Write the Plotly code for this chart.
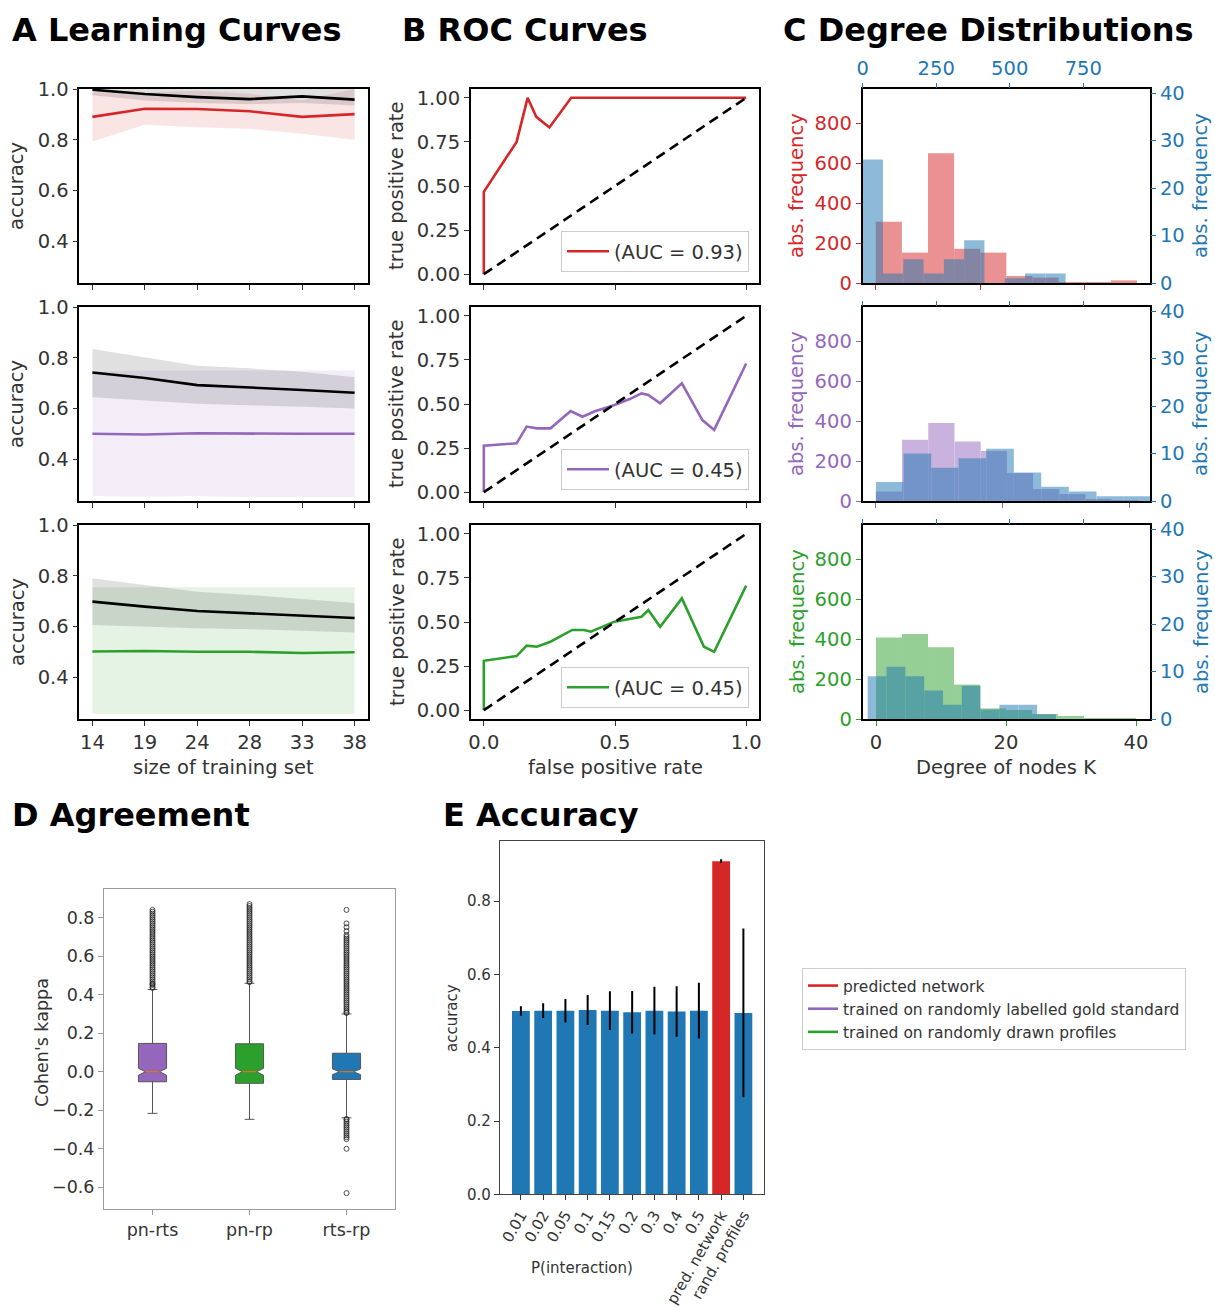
import plotly.graph_objects as go

W, H = 1215, 1307
FONT = "DejaVu Sans"
TXT = "#333333"
RED, PURPLE, GREEN, BLUE = "#d62728", "#9467bd", "#2ca02c", "#1f77b4"
FS = 19.5      # text size in panels A-C
FS_D = 17.5    # text size in panel D
FS_E = 15      # text size in panel E
FS_TITLE = 32

# ---------------- data ----------------
train_sizes = ["14", "19", "24", "28", "33", "38"]

# A, row 1: predicted network
train_acc_pn = [0.997, 0.980, 0.968, 0.960, 0.971, 0.958]
train_acc_pn_lo = [0.975, 0.955, 0.945, 0.940, 0.945, 0.935]
train_acc_pn_hi = [1.0, 1.0, 1.0, 1.0, 1.0, 1.0]
test_acc_pn = [0.890, 0.922, 0.921, 0.912, 0.890, 0.901]
test_acc_pn_lo = [0.793, 0.859, 0.849, 0.843, 0.824, 0.800]
test_acc_pn_hi = [0.987, 0.985, 0.993, 0.981, 0.956, 1.0]

# A, row 2: randomly labelled gold standard
train_acc_rl = [0.742, 0.720, 0.692, 0.683, 0.673, 0.662]
train_acc_rl_lo = [0.644, 0.631, 0.618, 0.614, 0.607, 0.600]
train_acc_rl_hi = [0.834, 0.801, 0.768, 0.758, 0.745, 0.723]
test_acc_rl = [0.500, 0.497, 0.502, 0.500, 0.500, 0.500]
test_acc_rl_lo = [0.255, 0.252, 0.255, 0.250, 0.250, 0.250]
test_acc_rl_hi = [0.745, 0.750, 0.750, 0.750, 0.750, 0.750]

# A, row 3: randomly drawn profiles
train_acc_rp = [0.698, 0.678, 0.661, 0.652, 0.642, 0.633]
train_acc_rp_lo = [0.606, 0.600, 0.593, 0.589, 0.584, 0.576]
train_acc_rp_hi = [0.790, 0.764, 0.737, 0.724, 0.707, 0.692]
test_acc_rp = [0.501, 0.503, 0.500, 0.500, 0.495, 0.498]
test_acc_rp_lo = [0.256, 0.256, 0.256, 0.256, 0.256, 0.256]
test_acc_rp_hi = [0.755, 0.755, 0.755, 0.755, 0.755, 0.755]

# B: ROC curves
fpr_pn = [0.0, 0.0, 0.125, 0.167, 0.200, 0.250, 0.333, 1.0]
tpr_pn = [0.0, 0.467, 0.750, 1.000, 0.892, 0.832, 1.000, 1.0]
auc_pn = 0.93
fpr_rl = [0.0, 0.0, 0.125, 0.163, 0.202, 0.254, 0.331, 0.376, 0.421, 0.498,
          0.556, 0.601, 0.627, 0.672, 0.755, 0.833, 0.878, 1.0]
tpr_rl = [0.0, 0.264, 0.277, 0.372, 0.362, 0.362, 0.460, 0.428, 0.457, 0.494,
          0.528, 0.560, 0.551, 0.504, 0.617, 0.409, 0.353, 0.730]
auc_rl = 0.45
fpr_rp = [0.0, 0.0, 0.125, 0.163, 0.202, 0.254, 0.337, 0.382, 0.408, 0.498,
          0.601, 0.627, 0.672, 0.755, 0.839, 0.878, 1.0]
tpr_rp = [0.0, 0.280, 0.307, 0.366, 0.360, 0.388, 0.455, 0.455, 0.445, 0.502,
          0.530, 0.568, 0.473, 0.634, 0.360, 0.331, 0.706]
auc_rp = 0.45

# C: degree histograms (bin edges + counts)
deg_pn_edges = [0, 5, 10, 15, 20, 25, 30, 35, 40, 45, 50]
deg_pn_counts = [306, 152, 649, 171, 152, 35, 27, 4, 3, 13]
deg_gold_edges = [0, 69, 138, 207, 276, 345, 414, 483, 552, 621, 690]
deg_gold_counts = [26, 2, 5, 2, 5, 9, 0, 1, 2, 2]

deg_rl_edges = [0, 4.13, 8.26, 12.39, 16.52, 20.65, 24.78, 28.91, 33.04, 37.17, 41.3]
deg_rl_counts = [47, 306, 390, 298, 250, 140, 60, 35, 8, 5]
deg_gold_rl_edges = [45, 139, 233, 326, 420, 514, 607, 701, 795, 888, 982]
deg_gold_rl_counts = [4, 10, 7, 9, 11, 6, 3, 2, 1, 1]

deg_rp_edges = [0, 4, 8, 12, 16, 20, 24, 28, 32, 36, 40]
deg_rp_counts = [408, 425, 359, 172, 53, 45, 25, 15, 4, 3]
deg_gold_rp_edges = [17, 81, 145, 209, 273, 337, 401, 465, 529, 593, 657]
deg_gold_rp_counts = [9, 11, 9, 6, 3, 7, 2, 3, 3, 1]

# D: Cohen's kappa box statistics
pair_labels = ["pn-rts", "pn-rp", "rts-rp"]
kappa_q1 = [-0.052, -0.060, -0.040]
kappa_med = [0.0, 0.0, 0.0]
kappa_q3 = [0.147, 0.145, 0.096]
kappa_lo = [-0.216, -0.247, -0.239]
kappa_hi = [0.427, 0.459, 0.300]
kappa_notch = [0.018, 0.018, 0.015]
fliers_pn_rts = [0.435, 0.44, 0.45, 0.455, 0.46, 0.47, 0.48, 0.49, 0.50, 0.51, 0.52,
                 0.53, 0.54, 0.55, 0.56, 0.57, 0.58, 0.59, 0.60, 0.61, 0.62, 0.63,
                 0.64, 0.65, 0.66, 0.67, 0.68, 0.69, 0.70, 0.71, 0.72, 0.73, 0.74,
                 0.75, 0.76, 0.77, 0.78, 0.79, 0.80, 0.81, 0.82, 0.83, 0.84]
fliers_pn_rp = [0.465, 0.47, 0.48, 0.49, 0.50, 0.51, 0.52, 0.53, 0.54, 0.55, 0.56,
                0.57, 0.58, 0.59, 0.60, 0.61, 0.62, 0.63, 0.64, 0.65, 0.66, 0.67,
                0.68, 0.69, 0.70, 0.71, 0.72, 0.73, 0.74, 0.75, 0.76, 0.77, 0.78,
                0.79, 0.80, 0.81, 0.82, 0.83, 0.84, 0.85, 0.86, 0.87]
fliers_rts_rp = [0.305, 0.31, 0.32, 0.33, 0.34, 0.35, 0.36, 0.37, 0.38, 0.39, 0.40,
                 0.41, 0.42, 0.43, 0.44, 0.45, 0.46, 0.47, 0.48, 0.49, 0.50, 0.51,
                 0.52, 0.53, 0.54, 0.55, 0.56, 0.57, 0.58, 0.59, 0.60, 0.61, 0.62,
                 0.63, 0.64, 0.65, 0.66, 0.67, 0.68, 0.69, 0.70, 0.71, 0.73, 0.75,
                 0.77, 0.84, -0.245, -0.25, -0.26, -0.27, -0.28, -0.29, -0.30,
                 -0.31, -0.32, -0.33, -0.34, -0.35, -0.40, -0.63]

# E: accuracy per setting
acc_labels = ["0.01", "0.02", "0.05", "0.1", "0.15", "0.2", "0.3", "0.4", "0.5",
              "pred. network", "rand. profiles"]
acc_values = [0.500, 0.501, 0.501, 0.503, 0.501, 0.497, 0.501, 0.499, 0.501, 0.909, 0.495]
acc_errors = [0.013, 0.020, 0.032, 0.041, 0.053, 0.058, 0.065, 0.069, 0.076, 0.005, 0.230]
acc_colors = [BLUE] * 9 + [RED, BLUE]


def rgba(hex_color, a):
    h = hex_color.lstrip("#")
    r, g, b = int(h[0:2], 16), int(h[2:4], 16), int(h[4:6], 16)
    return f"rgba({r},{g},{b},{a})"


def xd(x0, x1):
    return [x0 / W, x1 / W]


def yd(y0, y1):
    return [1 - y1 / H, 1 - y0 / H]


def axis(size=FS, **kw):
    d = dict(showgrid=False, zeroline=False, showline=True, linecolor="black",
             linewidth=1.5, mirror=True, ticks="outside", ticklen=5, tickwidth=1.2,
             tickcolor=TXT, automargin=False,
             tickfont=dict(family=FONT, size=size, color=TXT))
    d.update(kw)
    return d


fig = go.Figure()
layout = {}

ROWS = [(89, 283), (307, 501), (525, 719)]
COL_A, COL_B, COL_C = (79.3, 367.7), (470.7, 759.3), (862.7, 1150)

# ---------------- A: learning curves ----------------
a_rows = [
    (train_acc_pn, train_acc_pn_lo, train_acc_pn_hi, test_acc_pn, test_acc_pn_lo,
     test_acc_pn_hi, RED, "predicted network"),
    (train_acc_rl, train_acc_rl_lo, train_acc_rl_hi, test_acc_rl, test_acc_rl_lo,
     test_acc_rl_hi, PURPLE, "trained on randomly labelled gold standard"),
    (train_acc_rp, train_acc_rp_lo, train_acc_rp_hi, test_acc_rp, test_acc_rp_lo,
     test_acc_rp_hi, GREEN, "trained on randomly drawn profiles"),
]
for r, (tr, trlo, trhi, te, telo, tehi, col, name) in enumerate(a_rows):
    n = 1 + r
    xa, ya = f"x{n}", f"y{n}"
    fig.add_trace(go.Scatter(x=train_sizes + train_sizes[::-1], y=tehi + telo[::-1],
                             fill="toself", fillcolor=rgba(col, 0.12), line=dict(width=0),
                             mode="lines", showlegend=False, hoverinfo="skip",
                             xaxis=xa, yaxis=ya))
    fig.add_trace(go.Scatter(x=train_sizes + train_sizes[::-1], y=trhi + trlo[::-1],
                             fill="toself", fillcolor="rgba(0,0,0,0.12)", line=dict(width=0),
                             mode="lines", showlegend=False, hoverinfo="skip",
                             xaxis=xa, yaxis=ya))
    fig.add_trace(go.Scatter(x=train_sizes, y=tr, mode="lines",
                             line=dict(color="black", width=2.6), showlegend=False,
                             xaxis=xa, yaxis=ya))
    fig.add_trace(go.Scatter(x=train_sizes, y=te, mode="lines", name=name,
                             line=dict(color=col, width=2.6), showlegend=True,
                             legend="legend", xaxis=xa, yaxis=ya))
    layout[f"xaxis{n}"] = axis(domain=xd(*COL_A), anchor=ya, type="category",
                               range=[-0.25, 5.25], showticklabels=(r == 2))
    layout[f"yaxis{n}"] = axis(domain=yd(*ROWS[r]), anchor=xa, range=[0.235, 1.0],
                               tickvals=[0.4, 0.6, 0.8, 1.0], tickformat=".1f")

# ---------------- B: ROC curves ----------------
b_rows = [(fpr_pn, tpr_pn, auc_pn, RED), (fpr_rl, tpr_rl, auc_rl, PURPLE),
          (fpr_rp, tpr_rp, auc_rp, GREEN)]
for r, (fpr, tpr, auc, col) in enumerate(b_rows):
    n = 4 + r
    xa, ya = f"x{n}", f"y{n}"
    lg = f"legend{r + 2}"
    fig.add_trace(go.Scatter(x=fpr, y=tpr, mode="lines", name=f"(AUC = {auc:.2f})",
                             line=dict(color=col, width=2.6), legend=lg,
                             xaxis=xa, yaxis=ya))
    fig.add_trace(go.Scatter(x=[0, 1], y=[0, 1], mode="lines", showlegend=False,
                             line=dict(color="black", width=2.6, dash="10px,6px"),
                             xaxis=xa, yaxis=ya))
    layout[f"xaxis{n}"] = axis(domain=xd(*COL_B), anchor=ya, range=[-0.05, 1.05],
                               tickvals=[0, 0.5, 1.0], tickformat=".1f",
                               showticklabels=(r == 2))
    layout[f"yaxis{n}"] = axis(domain=yd(*ROWS[r]), anchor=xa, range=[-0.05, 1.05],
                               tickvals=[0, 0.25, 0.5, 0.75, 1.0], tickformat=".2f")
    y0, y1 = ROWS[r]
    layout[lg] = dict(x=749 / W, xanchor="right", y=1 - (y1 - 11) / H, yanchor="bottom",
                      bgcolor="white", bordercolor="#cccccc", borderwidth=1,
                      font=dict(family=FONT, size=FS, color=TXT), itemwidth=42)

# ---------------- C: degree distributions ----------------
c_rows = [
    (deg_pn_edges, deg_pn_counts, deg_gold_edges, deg_gold_counts, RED, [-2.5, 52.5]),
    (deg_rl_edges, deg_rl_counts, deg_gold_rl_edges, deg_gold_rl_counts, PURPLE, [-2.07, 43.2]),
    (deg_rp_edges, deg_rp_counts, deg_gold_rp_edges, deg_gold_rp_counts, GREEN, [-2.05, 42.15]),
]


def hist_bars(edges, counts):
    centers = [(a + b) / 2 for a, b in zip(edges[:-1], edges[1:])]
    widths = [b - a for a, b in zip(edges[:-1], edges[1:])]
    return centers, widths, counts


for r, (e1, c1, e2, c2, col, krange) in enumerate(c_rows):
    n, m = 7 + r, 10 + r
    xa, ya, xt, yr = f"x{n}", f"y{n}", f"x{m}", f"y{m}"
    cx, wd, ct = hist_bars(e1, c1)
    fig.add_trace(go.Bar(x=cx, y=ct, width=wd, marker=dict(color=col, line=dict(width=0)),
                         opacity=0.5, showlegend=False, xaxis=xa, yaxis=ya))
    cx2, wd2, ct2 = hist_bars(e2, c2)
    fig.add_trace(go.Bar(x=cx2, y=ct2, width=wd2, marker=dict(color=BLUE, line=dict(width=0)),
                         opacity=0.5, showlegend=False, xaxis=xt, yaxis=yr))
    layout[f"xaxis{n}"] = axis(domain=xd(*COL_C), anchor=ya, range=krange,
                               tickvals=[0, 20, 40], showticklabels=(r == 2),
                               tickcolor=col, linewidth=2)
    layout[f"yaxis{n}"] = axis(domain=yd(*ROWS[r]), anchor=xa, range=[0, 970],
                               tickvals=[0, 200, 400, 600, 800], tickcolor=col,
                               tickfont=dict(family=FONT, size=FS, color=col), linewidth=2)
    layout[f"xaxis{m}"] = dict(overlaying=xa, side="top", anchor=yr, range=[0, 977],
                               tickvals=[0, 250, 500, 750], showticklabels=(r == 0),
                               showgrid=False, zeroline=False, showline=False,
                               automargin=False, ticks="outside", ticklen=5,
                               tickwidth=1.2, tickcolor=BLUE,
                               tickfont=dict(family=FONT, size=FS, color=BLUE))
    layout[f"yaxis{m}"] = dict(overlaying=ya, side="right", anchor=xt, range=[0, 40.85],
                               tickvals=[0, 10, 20, 30, 40], showgrid=False, zeroline=False,
                               showline=False, automargin=False, ticks="outside",
                               ticklen=5, tickwidth=1.2, tickcolor=BLUE,
                               tickfont=dict(family=FONT, size=FS, color=BLUE))

# ---------------- D: agreement box plots ----------------
box_w = 0.29
box_colors = [PURPLE, GREEN, BLUE]
for i, lab in enumerate(pair_labels):
    pos = i + 1
    fig.add_trace(go.Box(x=[pos], q1=[kappa_q1[i]], median=[kappa_med[i]], q3=[kappa_q3[i]],
                         lowerfence=[kappa_lo[i]], upperfence=[kappa_hi[i]],
                         notched=True, notchspan=[kappa_notch[i]], notchwidth=0.25,
                         width=box_w, whiskerwidth=0.35, fillcolor=box_colors[i],
                         line=dict(color="#555555", width=1), boxpoints=False,
                         name=lab, showlegend=False, xaxis="x13", yaxis="y13"))
    fig.add_trace(go.Scatter(x=[pos - box_w / 4, pos + box_w / 4],
                             y=[kappa_med[i], kappa_med[i]], mode="lines",
                             line=dict(color="#ff7f0e", width=1.2), showlegend=False,
                             xaxis="x13", yaxis="y13"))
for pos, fl in zip([1, 2, 3], [fliers_pn_rts, fliers_pn_rp, fliers_rts_rp]):
    fig.add_trace(go.Scatter(x=[pos] * len(fl), y=fl, mode="markers",
                             marker=dict(symbol="circle-open", size=5, color="#222222",
                                         line=dict(width=0.8)),
                             showlegend=False, xaxis="x13", yaxis="y13"))
layout["xaxis13"] = axis(size=FS_D, domain=xd(104, 395), anchor="y13", range=[0.5, 3.5],
                         tickvals=[1, 2, 3], ticktext=pair_labels, linecolor="#9a9a9a",
                         linewidth=1, tickcolor="#9a9a9a")
layout["yaxis13"] = axis(size=FS_D, domain=yd(889.3, 1209.3), anchor="x13",
                         range=[-0.714, 0.947],
                         tickvals=[-0.6, -0.4, -0.2, 0.0, 0.2, 0.4, 0.6, 0.8],
                         tickformat=".1f", linecolor="#9a9a9a", linewidth=1,
                         tickcolor="#9a9a9a")

# ---------------- E: accuracy bars ----------------
fig.add_trace(go.Bar(x=acc_labels, y=acc_values, width=0.8,
                     marker=dict(color=acc_colors, line=dict(width=0)),
                     error_y=dict(type="data", array=acc_errors, color="black",
                                  thickness=2, width=0),
                     showlegend=False, xaxis="x14", yaxis="y14"))
layout["xaxis14"] = axis(size=FS_E, domain=xd(500, 764.3), anchor="y14", type="category",
                         range=[-0.94, 10.94], tickangle=-60, linecolor="#444444",
                         linewidth=1.2)
layout["yaxis14"] = axis(size=FS_E, domain=yd(841, 1194.3), anchor="x14", range=[0, 0.964],
                         tickvals=[0, 0.2, 0.4, 0.6, 0.8], tickformat=".1f",
                         linecolor="#444444", linewidth=1.2)

# ---------------- text ----------------
ann = []


def text(s, x, y, size, color=TXT, angle=0, bold=False, xanchor="center"):
    ann.append(dict(text=s, x=x / W, y=1 - y / H, xref="paper", yref="paper",
                    showarrow=False, textangle=angle, xanchor=xanchor, yanchor="middle",
                    font=dict(family=FONT, size=size, color=color,
                              weight="bold" if bold else "normal")))


text("A Learning Curves", 10, 30, FS_TITLE, "black", bold=True, xanchor="left")
text("B ROC Curves", 400, 30, FS_TITLE, "black", bold=True, xanchor="left")
text("C Degree Distributions", 781, 30, FS_TITLE, "black", bold=True, xanchor="left")
text("D Agreement", 10, 815, FS_TITLE, "black", bold=True, xanchor="left")
text("E Accuracy", 441, 815, FS_TITLE, "black", bold=True, xanchor="left")

for r, col in enumerate([RED, PURPLE, GREEN]):
    yc = (ROWS[r][0] + ROWS[r][1]) / 2
    text("accuracy", 17, yc, FS, angle=-90)
    text("true positive rate", 397, yc, FS, angle=-90)
    text("abs. frequency", 797, yc, FS, col, angle=-90)
    text("abs. frequency", 1201, yc, FS, BLUE, angle=-90)

text("size of training set", 223, 767, FS)
text("false positive rate", 615, 767, FS)
text("Degree of nodes K", 1006, 767, FS)
text("Cohen's kappa", 42, 1042, FS_D, angle=-90)
text("accuracy", 452, 1018, FS_E, angle=-90)
text("P(interaction)", 582, 1268, FS_E)

layout["legend"] = dict(x=802 / W, xanchor="left", y=1 - 968 / H, yanchor="top",
                        bgcolor="white", bordercolor="#cccccc", borderwidth=1,
                        font=dict(family=FONT, size=15.5, color=TXT), itemwidth=30)

fig.update_layout(width=W, height=H, margin=dict(l=0, r=0, t=0, b=0, autoexpand=False),
                  paper_bgcolor="white", plot_bgcolor="white", barmode="overlay",
                  annotations=ann, font=dict(family=FONT, color=TXT), **layout)

fig.write_html("out.html")
